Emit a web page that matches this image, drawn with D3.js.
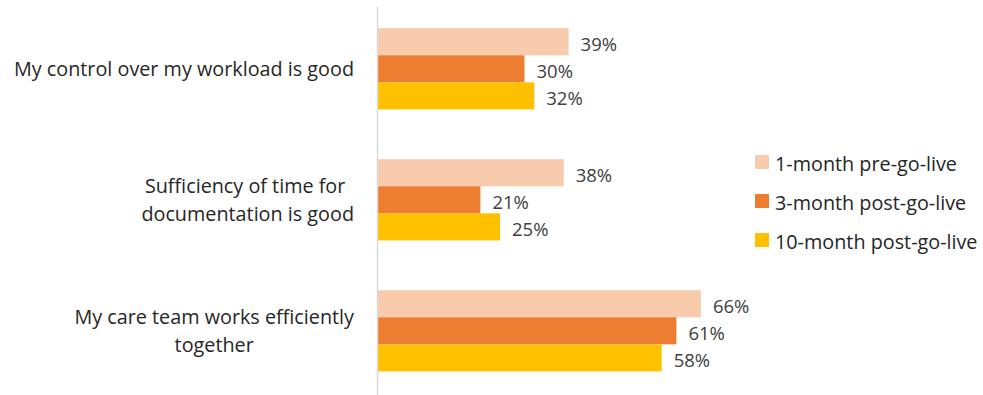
<!DOCTYPE html>
<html>
<head>
<meta charset="utf-8">
<script src="https://cdn.jsdelivr.net/npm/d3@7"></script>
<style>
  body { margin: 0; background: #fff; }
  svg { font-family: "Open Sans", sans-serif; }
</style>
</head>
<body>
<div id="chart"></div>
<script>
const categories = [
    ["My control over my workload is good"],
    ["Sufficiency of time for ", "documentation is good"],
    ["My care team works efficiently", "together"]
];
const seriesNames = ["1-month pre-go-live", "3-month post-go-live", "10-month post-go-live"];
const seriesColors = ["#F8CBAD", "#ED7D31", "#FFC000"];
const preGoLive = [0.39, 0.38, 0.66];
const post3Month = [0.30, 0.21, 0.61];
const post10Month = [0.32, 0.25, 0.58];

const seriesValues = [preGoLive, post3Month, post10Month];
const catKeys = categories.map(c => c.join(" "));

const width = 983, height = 395;
const svg = d3.select("#chart").append("svg")
    .attr("width", width)
    .attr("height", height);

const y = d3.scaleBand()
    .domain(catKeys)
    .range([3.3, 396.3])
    .paddingInner(0.38)
    .paddingOuter(0.19);

const ySub = d3.scaleBand()
    .domain(seriesNames)
    .range([0, y.bandwidth()]);

const x = d3.scaleLinear()
    .domain([0, 1])
    .range([377.5, 867.5]);

// bars
catKeys.forEach((key, ci) => {
    const g = svg.append("g").attr("transform", `translate(0,${y(key)})`);
    seriesNames.forEach((s, si) => {
        const v = seriesValues[si][ci];
        g.append("rect")
            .attr("x", x(0))
            .attr("y", ySub(s))
            .attr("width", x(v) - x(0))
            .attr("height", ySub.bandwidth())
            .attr("fill", seriesColors[si]);
        g.append("text")
            .attr("x", x(v) + 12)
            .attr("y", ySub(s) + ySub.bandwidth() / 2 + 2)
            .attr("dominant-baseline", "central")
            .style("font-size", "18.5px")
            .style("fill", "#404040")
            .text(d3.format(".0%")(v));
    });
});

// axis line
svg.append("line")
    .attr("x1", x(0)).attr("x2", x(0))
    .attr("y1", 7).attr("y2", height)
    .attr("stroke", "#d9d9d9")
    .attr("stroke-width", 1.5);

// category labels, centre-aligned block ending at the right edge
const labelRight = 354;
categories.forEach((lines, ci) => {
    const t = svg.append("text")
        .style("font-size", "19.8px")
        .style("fill", "#262626")
        .attr("text-anchor", "middle");
    const lh = 28;
    const cy = y(catKeys[ci]) + y.bandwidth() / 2;
    const y0 = cy - (lines.length - 1) * lh / 2;
    lines.forEach((ln, li) => {
        t.append("tspan")
            .attr("y", y0 + li * lh)
            .attr("dominant-baseline", "central")
            .style("white-space", "pre")
            .text(ln);
    });
    const w = d3.max(t.selectAll("tspan").nodes(), n => n.getComputedTextLength());
    t.selectAll("tspan").attr("x", labelRight - w / 2);
});

// legend
const legend = svg.append("g").attr("transform", "translate(755,162)");
seriesNames.forEach((s, i) => {
    const row = legend.append("g").attr("transform", `translate(0,${i * 39})`);
    row.append("rect")
        .attr("x", 0).attr("y", -7)
        .attr("width", 14).attr("height", 14)
        .attr("fill", seriesColors[i]);
    row.append("text")
        .attr("x", 20).attr("y", 1)
        .attr("dominant-baseline", "central")
        .style("font-size", "19.8px")
        .style("fill", "#262626")
        .text(s);
});
</script>
</body>
</html>
